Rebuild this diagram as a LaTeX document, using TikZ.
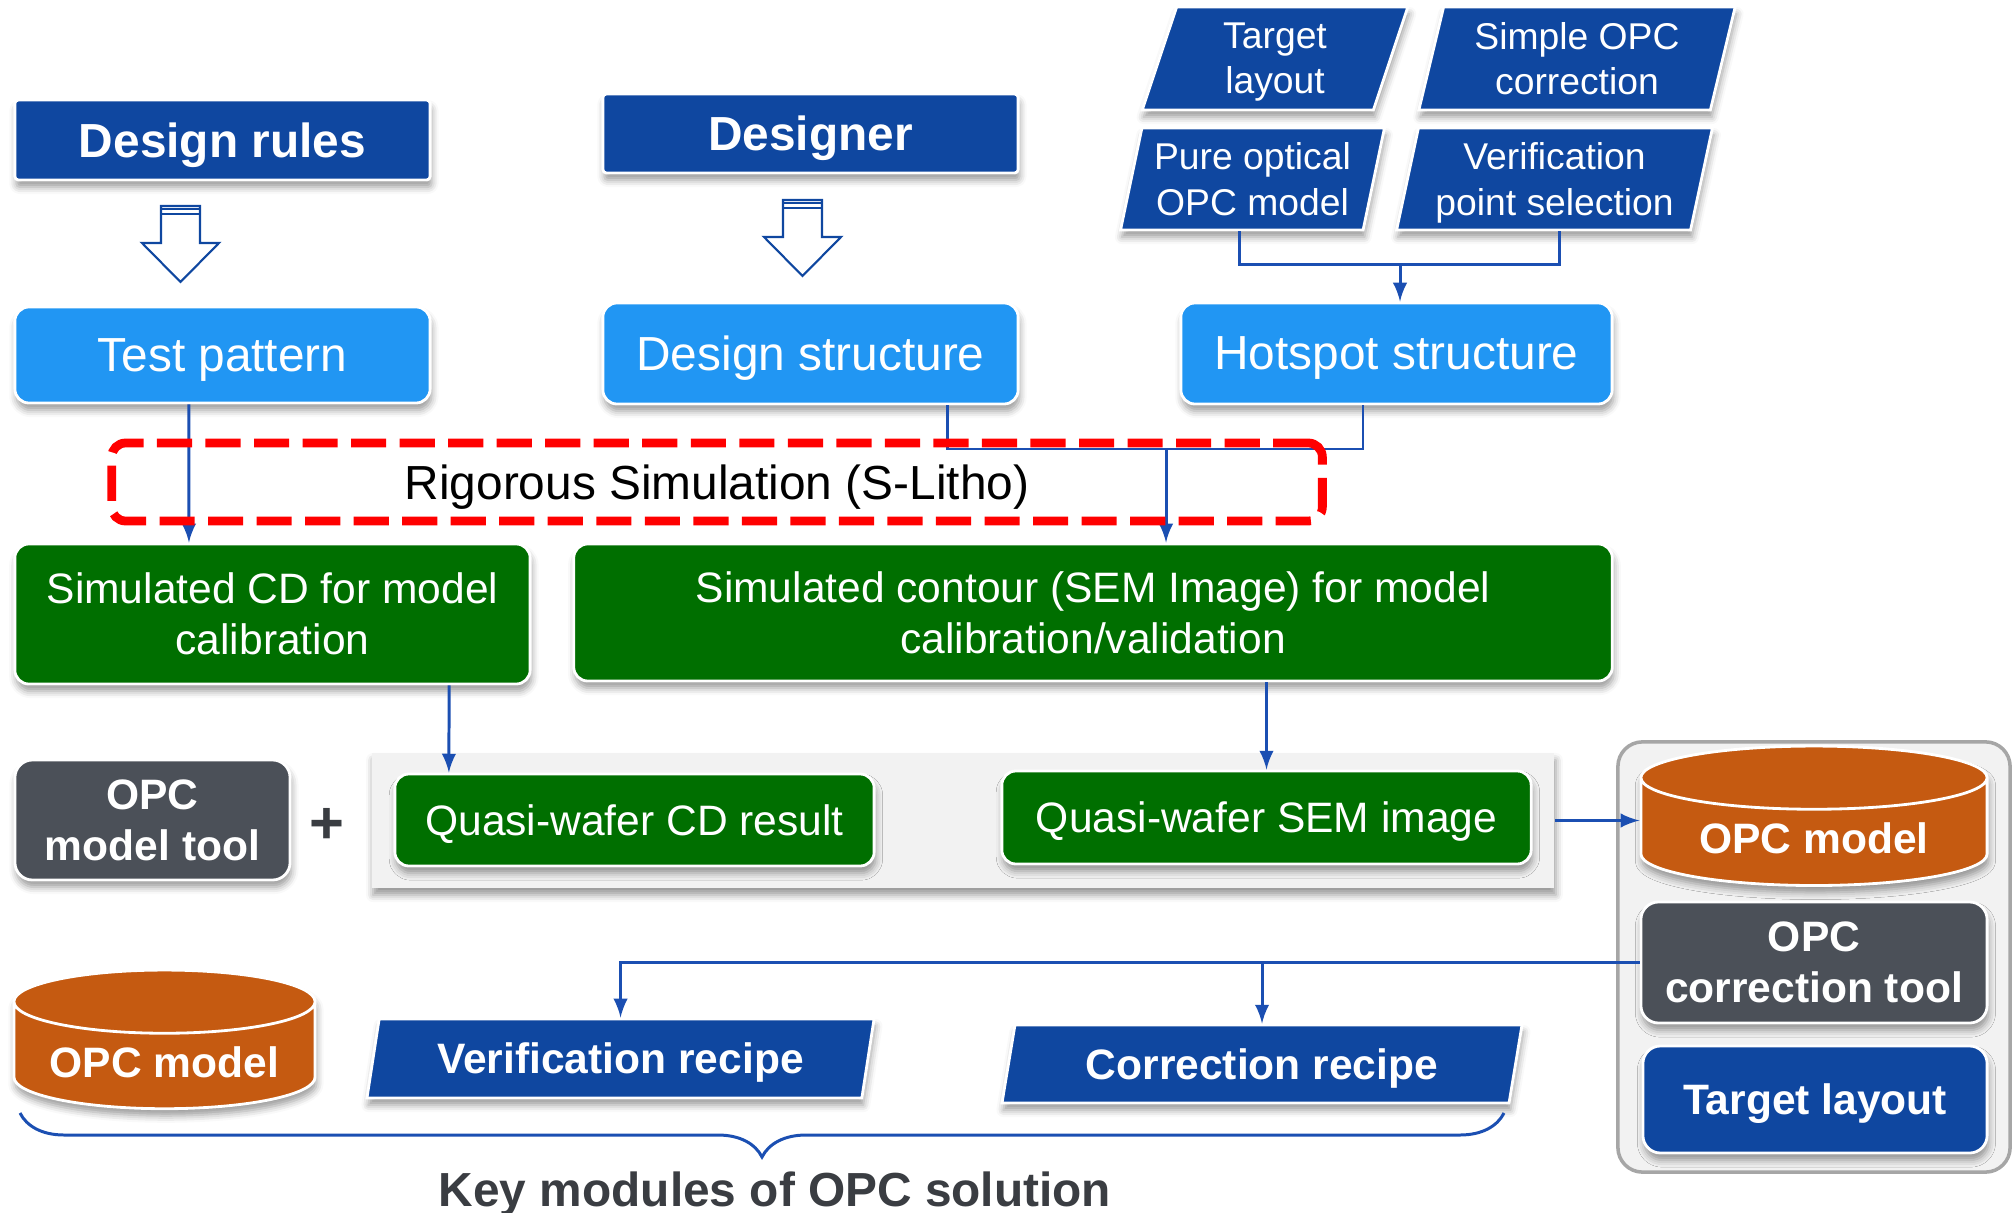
\documentclass[tikz,border=0pt]{standalone}
\usepackage{fontspec}
\setmainfont{Liberation Sans}
\usepackage{tikz}
\usetikzlibrary{shapes.geometric, arrows, shadows.blur, decorations.pathreplacing}

\definecolor{dblue}{HTML}{0F47A0}
\definecolor{lblue}{HTML}{2196F3}
\definecolor{dgreen}{HTML}{006F00}
\definecolor{dgray}{HTML}{4B5058}
\definecolor{orng}{HTML}{C55A11}
\definecolor{lnblue}{HTML}{1B4FB2}
\definecolor{pgray}{HTML}{F2F2F2}
\definecolor{txtgray}{HTML}{3A3D42}

\newcommand{\fsbig}{\fontsize{13.6}{16.3}\selectfont}
\newcommand{\fsmid}{\fontsize{12.1}{14.5}\selectfont}
\newcommand{\fssmall}{\fontsize{10.6}{12.8}\selectfont}

\tikzset{
  boxshadow/.style={blur shadow={shadow xshift=0.4pt, shadow yshift=-2pt, shadow blur radius=2pt, shadow opacity=40}},
  box/.style={rectangle, draw=white, line width=0.8pt, text=white, align=center, inner sep=2pt, text depth=0pt, boxshadow},
  headbox/.style={box, fill=dblue, rounded corners=1pt, font=\fsbig\bfseries},
  bluebox/.style={box, fill=lblue, rounded corners=4pt, font=\fsbig},
  greenbox/.style={box, fill=dgreen, rounded corners=4pt, font=\fsmid},
  toolbox/.style={box, fill=dgray, rounded corners=5pt, font=\fsmid\bfseries},
  para/.style={trapezium, trapezium left angle=76, trapezium right angle=104, trapezium stretches=true,
    fill=dblue, draw=white, line width=0.8pt, text=white, align=center, inner sep=1pt, text depth=0pt, boxshadow},
  dbase/.style={cylinder, shape border rotate=90, aspect=0.25, fill=orng, draw=white, line width=0.8pt,
    text=white, font=\fsmid\bfseries, boxshadow},
  link/.style={draw=lnblue, line width=0.85pt},
  hollow/.style={draw=dblue, fill=white, line width=0.6pt, line join=miter},
}

\begin{document}
\begin{tikzpicture}[x=0.01cm, y=-0.01cm, >=latex, font=\fssmall]
\useasboundingbox (0,0) rectangle (2012,1213);

% --- sources ---
\node[headbox, minimum width=4.15cm, minimum height=0.8cm] (rules) at (222.5,140) {Design rules};
\node[headbox, minimum width=4.15cm, minimum height=0.79cm] (designer) at (810.5,133.5) {Designer};

\node[para, minimum width=2.66cm, minimum height=1.03cm] (tlay) at (1275,58.5) {Target\\layout};
\node[para, minimum width=3.18cm, minimum height=1.03cm] (sopc) at (1577,58.5) {Simple OPC\\correction};
\node[para, minimum width=2.65cm, minimum height=1.02cm] (popc) at (1252.5,179) {Pure optical\\OPC model};
\node[para, minimum width=3.17cm, minimum height=1.02cm] (vps) at (1554.5,179) {Verification\\point selection};

% hohle Pfeile
\foreach \x/\y in {180.5/206, 802.5/200} {
  \draw[hollow] ({\x-19.5},\y) -- ({\x+19.5},\y) -- ({\x+19.5},{\y+37}) -- ({\x+38.5},{\y+37})
    -- (\x,{\y+76}) -- ({\x-38.5},{\y+37}) -- ({\x-19.5},{\y+37}) -- cycle;
  \draw[draw=dblue, line width=0.6pt] ({\x-19.5},{\y+3}) -- ({\x+19.5},{\y+3});
  \draw[draw=dblue, line width=0.6pt] ({\x-19.5},{\y+8}) -- ({\x+19.5},{\y+8});
}

% --- structures ---
\node[bluebox, minimum width=4.15cm, minimum height=0.96cm] (test) at (222.5,355) {Test pattern};
\node[bluebox, minimum width=4.15cm, minimum height=1.01cm] (dstruct) at (810.5,353.5) {Design structure};
\node[bluebox, minimum width=4.31cm, minimum height=1.01cm] (hotspot) at (1396.5,353.5) {Hotspot structure};

\coordinate (tj) at (1400,265);
\draw[link] ([xshift=-0.135cm]popc.south) |- (tj) -| ([xshift=0.045cm]vps.south);
\draw[link, ->] (tj) -- (tj |- hotspot.north);

% --- simulation results ---
\node[greenbox, minimum width=5.15cm, minimum height=1.4cm] (simcd) at (272.5,614) {Simulated CD for model\\calibration};
\node[greenbox, minimum width=10.38cm, minimum height=1.37cm] (simsem) at (1093,612.5) {Simulated contour (SEM Image) for model\\calibration/validation};

\coordinate (sj) at (1166,449);
\draw[link, ->] ([xshift=-0.335cm]test.south) -- ([xshift=-0.835cm]simcd.north);
\draw[link] ([xshift=1.365cm]dstruct.south) |- (sj);
\draw[link] ([xshift=-0.335cm]hotspot.south) |- (sj);
\draw[link, ->] (sj) -- (sj |- simsem.north);

% Rigorous Simulation
\node[draw=red, line width=2.5pt, dash pattern=on 10pt off 3.8pt, rounded corners=4pt, text depth=0pt,
  minimum width=12.1cm, minimum height=0.78cm, font=\fsbig] (rigor) at (717,482) {Rigorous Simulation (S-Litho)};

% --- quasi-wafer ---
\node[fill=pgray, minimum width=11.82cm, minimum height=1.35cm, boxshadow] (qpanel) at (963,820.5) {};
\node[greenbox, minimum width=4.79cm, minimum height=0.92cm] (qcd) at (634.5,820) {Quasi-wafer CD result};
\node[greenbox, minimum width=5.29cm, minimum height=0.93cm] (qsem) at (1266.5,817.5) {Quasi-wafer SEM image};
\node[toolbox, minimum width=2.75cm, minimum height=1.2cm] (mtool) at (152.5,820) {OPC\\model tool};
\node[text=txtgray, font=\fontsize{17}{17}\selectfont\bfseries] (plus) at (327,826) {+};

\draw[link, ->] ([xshift=1.765cm]simcd.south) -- ([xshift=-1.855cm]qcd.north);
\draw[link, ->] (qsem.north |- simsem.south) -- (qsem.north);

% --- OPC solution ---
\node[draw=black!35, line width=1pt, fill=pgray, rounded corners=7pt, minimum width=3.92cm, minimum height=4.3cm] (rpanel) at (1814,957) {};
\node[dbase, minimum width=3.46cm, minimum height=1.22cm] (opcm) at (1814,838) {OPC model};
\node[toolbox, minimum width=3.46cm, minimum height=1.21cm] (ctool) at (1814,962.5) {OPC\\correction tool};
\node[headbox, rounded corners=5pt, font=\fsmid\bfseries, minimum width=3.44cm, minimum height=1.07cm] (tlay2) at (1815,1099.5) {Target layout};

\draw[link, ->] (qpanel.east) -- (qpanel.east -| opcm.west);

\node[dbase, minimum width=3.01cm, minimum height=1.25cm] (opcm2) at (164.5,1062) {OPC model};
\node[para, font=\fsmid\bfseries, minimum width=5.07cm, minimum height=0.79cm] (vrec) at (620.5,1058.5) {Verification recipe};
\node[para, font=\fsmid\bfseries, minimum width=5.2cm, minimum height=0.78cm] (crec) at (1262,1064) {Correction recipe};

\draw[link, ->] (ctool.west) -| (vrec.north);
\draw[link, ->] (crec.north |- ctool.west) -- (crec.north);

% Klammer
\draw[link, decorate, decoration={brace, mirror, amplitude=0.44cm}] (20,1113) -- (1504,1113);
\node[text=txtgray, font=\fsbig\bfseries, anchor=base] (keymod) at (775,1206) {Key modules of OPC solution};

\end{tikzpicture}
\end{document}
